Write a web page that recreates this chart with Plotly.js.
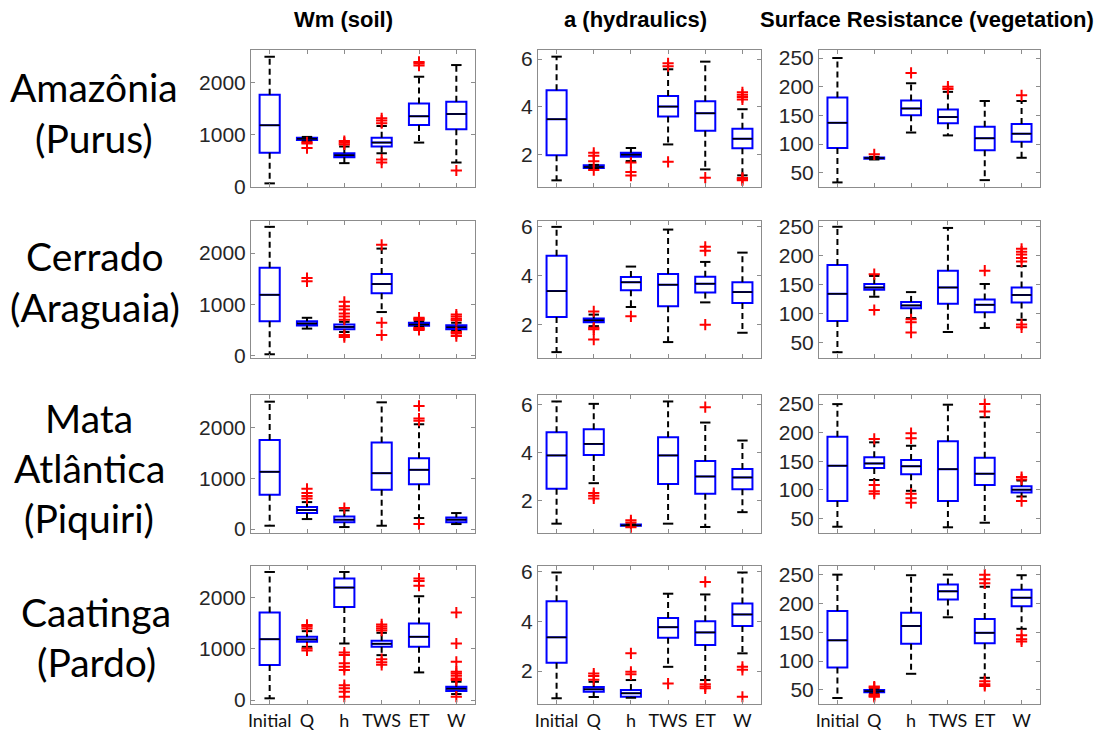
<!DOCTYPE html>
<html><head><meta charset="utf-8">
<script src="https://cdn.plot.ly/plotly-3.0.1.min.js"></script>
<style>html,body{margin:0;padding:0;background:#fff}#chart{width:1109px;height:734px}</style>
</head><body><div id="chart"></div>
<script>
// Categories (x tick labels)
const categories = ['Initial', 'Q', 'h', 'TWS', 'ET', 'W'];
const columnTitles = ['Wm (soil)', 'a (hydraulics)', 'Surface Resistance (vegetation)'];
const rowLabels = [['Amazônia', '(Purus)'], ['Cerrado', '(Araguaia)'], ['Mata', 'Atlântica', '(Piquiri)'], ['Caatinga', '(Pardo)']];

// Box statistics per category: [lower whisker, Q1, median, Q3, upper whisker]
// ---- Wm (soil)
const wmAmazonia = [[60,650,1180,1770,2500],[870,895,918,938,955],[450,565,603,640,770],[640,770,846,940,1165],[846,1186,1353,1600,2115],[462,1103,1397,1635,2340]];
const wmAmazoniaOut = [[],[850,830,740],[810,845,875],[1220,1270,1315,520,460],[2330,2370,2400],[308]];
const wmCerrado = [[26,671,1184,1711,2510],[526,585,625,671,737],[460,513,559,605,658],[849,1217,1395,1592,2086],[560,580,605,638,670],[480,513,553,592,640]];
const wmCerradoOut = [[],[1513,1447],[1050,960,900,820,760,700,400,360],[2160,640,400],[740,720,700,540,520,500],[800,760,720,690,460,430,380]];
const wmMata = [[65,673,1124,1752,2503],[196,314,373,431,529],[39,131,183,248,366],[65,771,1098,1699,2490],[216,882,1163,1392,2059],[98,131,183,229,314]];
const wmMataOut = [[],[600,650,710,790],[412],[],[2420,2170,2130,98],[]];
const wmCaatinga = [[33,684,1192,1713,2508],[1042,1140,1186,1238,1349],[1107,1824,2202,2378,2508],[879,1042,1101,1160,1316],[541,1042,1238,1498,2033],[117,176,221,260,358]];
const wmCaatingaOut = [[],[1470,1440,1400,1010,970],[930,880,720,650,590,290,230,160,65],[1360,1400,1440,1480,800,740,690],[2240,2330,2380],[1713,1107,749,554,521,476,423,391,65]];
// ---- a (hydraulics)
const aAmazonia = [[0.9,1.96,3.47,4.69,6.1],[1.4,1.42,1.46,1.53,1.55],[1.71,1.89,1.98,2.06,2.26],[2.41,3.58,4.0,4.45,5.57],[1.36,2.98,3.72,4.22,5.89],[1.11,2.25,2.65,3.07,3.89]];
const aAmazoniaOut = [[],[2.06,1.93,1.7,1.33],[1.65,1.25,1.1],[5.7,5.82,1.68],[1.01],[4.3,4.4,4.5,4.6,1.0,0.95,0.9]];
const aCerrado = [[0.89,2.32,3.38,4.82,6.0],[1.95,2.11,2.19,2.26,2.42],[2.73,3.41,3.74,3.95,4.38],[1.3,2.76,3.64,4.08,5.89],[2.92,3.32,3.68,3.97,4.57],[1.68,2.89,3.34,3.74,4.95]];
const aCerradoOut = [[],[2.55,1.88,1.82,1.4],[2.35],[],[5.19,5.03,2.01],[]];
const aMata = [[1.03,2.49,3.88,4.85,6.13],[2.72,3.9,4.36,4.97,6.03],[0.93,0.94,0.96,0.99,1.0],[1.03,2.69,3.88,4.64,6.13],[0.89,2.28,3.0,3.65,5.25],[1.51,2.47,2.96,3.31,4.5]];
const aMataOut = [[],[2.31,2.2,2.08],[1.17,1.08,0.88],[],[5.89],[]];
const aCaatinga = [[0.91,2.33,3.35,4.8,5.95],[0.96,1.17,1.27,1.36,1.57],[0.93,0.97,1.11,1.24,1.64],[2.17,3.33,3.76,4.13,5.1],[1.64,3.04,3.55,4.0,5.07],[2.71,3.81,4.27,4.71,5.95]];
const aCaatingaOut = [[],[1.9,1.8,1.65],[2.71,1.97,1.87],[1.5],[5.57,1.47,1.38,1.31],[2.17,2.05,0.97]];
// ---- Surface Resistance (vegetation)
const rsAmazonia = [[33,93,137,181,250],[73,74.5,75.5,76.5,77.5],[120,150,162,176,206],[115,136,147,160,191],[37,89,110,130,175],[76,104,118,135,175]];
const rsAmazoniaOut = [[],[82],[224],[200,196],[],[185]];
const rsCerrado = [[33,87,134,184,250],[129,141,145,151,165],[92,109,114,120,137],[68,117,145,174,248],[75,102,115,124,151],[89,119,132,145,182]];
const rsCerradoOut = [[],[168,106],[90,85,67],[],[174],[212,207,202,196,190,81,76]];
const rsMata = [[35,80,142,193,250],[117,138,146,157,183],[98,127,141,152,177],[34,80,136,185,249],[42,108,128,156,227],[88,95,100,106,116]];
const rsMataOut = [[],[189,108,97,93],[199,190,93,85,77],[],[250,237],[122,118,80]];
const rsCaatinga = [[36,89,136,187,250],[44,46,48,50,52],[78,130,161,184,249],[176,207,221,233,250],[71,131,149,173,229],[156,195,210,224,249]];
const rsCaatingaOut = [[],[56,54,42,40,38],[],[],[235,242,250,65,60,57],[145,138,134]];

// Y tick values per column
const wmTicks = [0, 1000, 2000];
const aTicks = [2, 4, 6];
const rsTicks = [50, 100, 150, 200, 250];

// ---------- layout constants ----------
const W = 1109, H = 734;
const colPx = [[251, 475], [538, 761], [819, 1040]];
const rowPx = [[50, 187], [221, 358], [395, 533], [566, 704]];
const grid = [
  [[wmAmazonia, wmAmazoniaOut, [-10, 2630], wmTicks], [aAmazonia, aAmazoniaOut, [0.62, 6.38], aTicks], [rsAmazonia, rsAmazoniaOut, [25, 264], rsTicks]],
  [[wmCerrado, wmCerradoOut, [-47, 2624], wmTicks], [aCerrado, aCerradoOut, [0.65, 6.24], aTicks], [rsCerrado, rsCerradoOut, [23, 260], rsTicks]],
  [[wmMata, wmMataOut, [-78, 2634], wmTicks], [aMata, aMataOut, [0.64, 6.4], aTicks], [rsMata, rsMataOut, [24, 266], rsTicks]],
  [[wmCaatinga, wmCaatingaOut, [-78, 2625], wmTicks], [aCaatinga, aCaatingaOut, [0.68, 6.21], aTicks], [rsCaatinga, rsCaatingaOut, [25.6, 265], rsTicks]]
];

const BOXW = 0.54, CAPW = 0.14;
const traces = [];
const layout = {
  width: W, height: H, margin: {l: 0, r: 0, t: 0, b: 0},
  paper_bgcolor: '#fff', plot_bgcolor: '#fff', showlegend: false,
  annotations: []
};

for (let r = 0; r < 4; r++) {
  for (let c = 0; c < 3; c++) {
    const k = r * 3 + c + 1;
    const xs = k === 1 ? '' : String(k);
    const xa = 'x' + xs, ya = 'y' + xs;
    const [stats, outs, yr, yt] = grid[r][c];
    const pos = categories.map((_, i) => i);

    const wx = [], wy = [], cx = [], cy = [], mx = [], my = [], ox = [], oy = [];
    stats.forEach((s, i) => {
      wx.push(i, i, null, i, i, null);
      wy.push(s[3], s[4], null, s[1], s[0], null);
      cx.push(i - CAPW, i + CAPW, null, i - CAPW, i + CAPW, null);
      cy.push(s[4], s[4], null, s[0], s[0], null);
      mx.push(i - BOXW / 2, i + BOXW / 2, null);
      my.push(s[2], s[2], null);
      outs[i].forEach(v => { ox.push(i); oy.push(v); });
    });
    traces.push({type: 'scatter', mode: 'lines', x: wx, y: wy, xaxis: xa, yaxis: ya,
      line: {color: '#000', width: 2, dash: '6px,4px'}, hoverinfo: 'skip'});
    traces.push({type: 'box', x: pos, q1: stats.map(s => s[1]), median: stats.map(s => s[2]),
      q3: stats.map(s => s[3]), lowerfence: stats.map(s => s[1]), upperfence: stats.map(s => s[3]),
      width: BOXW, whiskerwidth: 0, boxpoints: false, xaxis: xa, yaxis: ya,
      line: {color: '#0000ff', width: 2}, fillcolor: 'rgba(0,0,0,0)', hoverinfo: 'skip'});
    traces.push({type: 'scatter', mode: 'lines', x: mx, y: my, xaxis: xa, yaxis: ya,
      line: {color: '#000', width: 1.6}, hoverinfo: 'skip'});
    traces.push({type: 'scatter', mode: 'lines', x: cx, y: cy, xaxis: xa, yaxis: ya,
      line: {color: '#000', width: 2}, hoverinfo: 'skip'});
    traces.push({type: 'scatter', mode: 'markers', x: ox, y: oy, xaxis: xa, yaxis: ya,
      marker: {symbol: 'cross-thin-open', size: 8, color: '#ff0000', line: {color: '#ff0000', width: 2}},
      hoverinfo: 'skip'});

    layout['xaxis' + xs] = {
      domain: [colPx[c][0] / W, colPx[c][1] / W], anchor: ya,
      range: [-0.5, 5.5], tickvals: pos, ticktext: categories,
      showticklabels: r === 3, ticks: 'inside', ticklen: 4, tickcolor: '#8c8c8c', tickwidth: 1,
      showline: true, linecolor: '#8c8c8c', linewidth: 1, mirror: 'ticks',
      showgrid: false, zeroline: false, fixedrange: true,
      tickfont: {family: 'Lato, Carlito, sans-serif', size: 18, color: '#111'}
    };
    layout['yaxis' + xs] = {
      domain: [1 - rowPx[r][1] / H, 1 - rowPx[r][0] / H], anchor: xa,
      range: yr, tickvals: yt, ticktext: yt.map(String),
      ticks: 'inside', ticklen: 4, tickcolor: '#8c8c8c', tickwidth: 1,
      showline: true, linecolor: '#8c8c8c', linewidth: 1, mirror: 'ticks',
      showgrid: false, zeroline: false, fixedrange: true,
      tickfont: {family: 'Liberation Sans, Arial, sans-serif', size: 21, color: '#262626'}
    };
  }
}

// Column titles
const titleX = [343, 635, 927];
columnTitles.forEach((t, i) => {
  layout.annotations.push({text: '<b>' + t + '</b>', xref: 'paper', yref: 'paper',
    x: titleX[i] / W, y: 1 - 20 / H, xanchor: 'center', yanchor: 'middle', showarrow: false,
    font: {family: 'Liberation Sans, Arial, sans-serif', size: 22, color: '#000'}});
});

// Row labels
const rowLineY = [[87, 138], [256, 307], [418, 468, 518], [612, 662]];
const rowLineX = [94, 95, 89, 96];
rowLabels.forEach((lines, r) => {
  lines.forEach((t, j) => {
    layout.annotations.push({text: t, xref: 'paper', yref: 'paper',
      x: rowLineX[r] / W, y: 1 - rowLineY[r][j] / H, xanchor: 'center', yanchor: 'middle', showarrow: false,
      font: {family: 'Lato, Carlito, sans-serif', size: 39, color: '#000'}});
  });
});

Plotly.newPlot('chart', traces, layout, {staticPlot: true, displayModeBar: false});
</script>
</body></html>
